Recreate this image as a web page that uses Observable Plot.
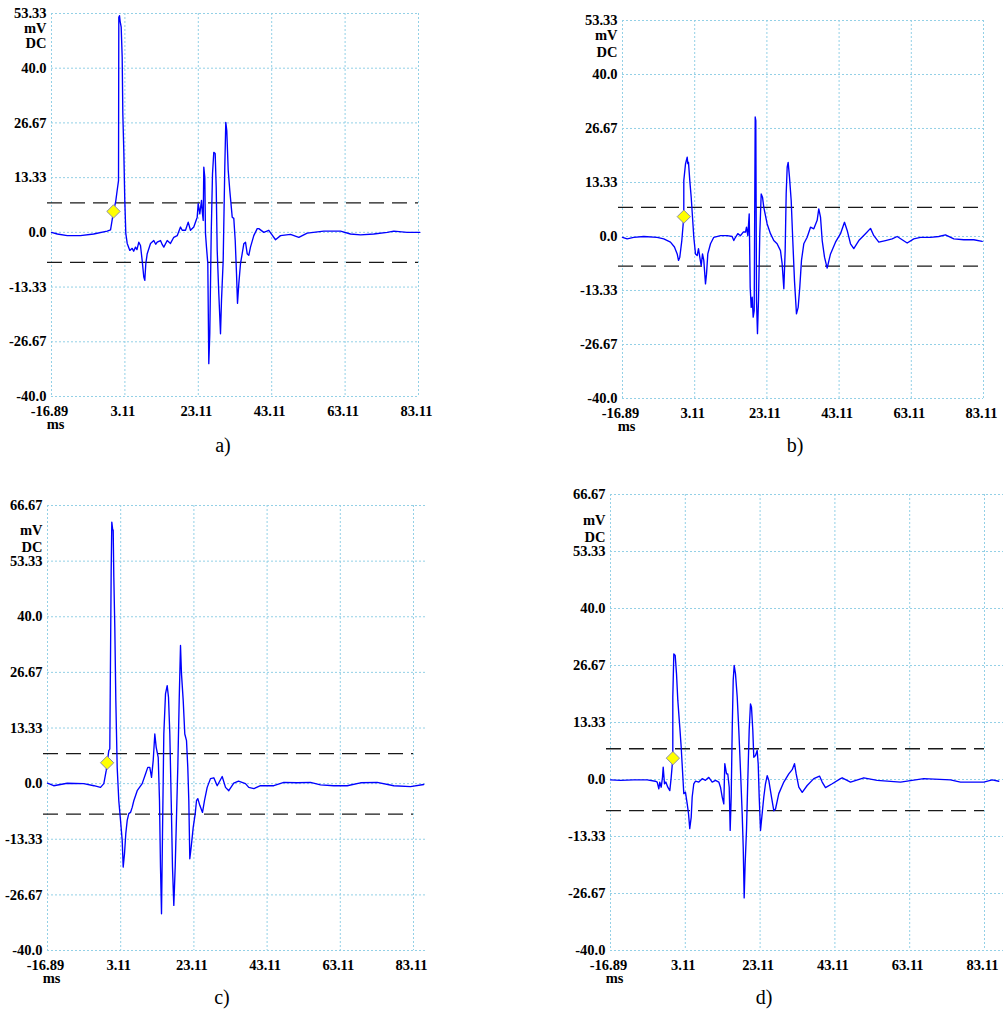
<!DOCTYPE html>
<html>
<head>
<meta charset="utf-8">
<script src="https://cdn.jsdelivr.net/npm/d3@7"></script>
<script src="https://cdn.jsdelivr.net/npm/@observablehq/plot@0.6"></script>
<style>
  body { margin: 0; background: #fff; }
  #wrap { position: relative; width: 1003px; height: 1009px; overflow: hidden; background: #fff; }
  .panel { position: absolute; }
  .panel text { font-family: "Liberation Serif", "Times New Roman", serif !important; font-weight: bold; }
  .cap { position: absolute; font-family: "Liberation Serif", "Times New Roman", serif; font-size: 20px; line-height: 20px; transform: translateX(-50%); color: #000; white-space: nowrap; }
</style>
</head>
<body>
<div id="wrap"></div>
<script>
// ---------- data ----------
const panelNames = ["a)", "b)", "c)", "d)"];
const xTickValues = [-16.89, 3.11, 23.11, 43.11, 63.11, 83.11];
const xTickLabels = ["-16.89", "3.11", "23.11", "43.11", "63.11", "83.11"];
const yTickValuesAB = [-40, -26.67, -13.33, 0, 13.33, 26.67, 40, 53.33];
const yTickValuesCD = [-40, -26.67, -13.33, 0, 13.33, 26.67, 40, 53.33, 66.67];
const yTickLabelMap = {"-40": "-40.0", "-26.67": "-26.67", "-13.33": "-13.33", "0": "0.0", "13.33": "13.33", "26.67": "26.67", "40": "40.0", "53.33": "53.33", "66.67": "66.67"};
const thresholds = [7.2, -7.3];
const markerTime = [0.0, 0.1, -0.6, -0.2];
const markerVolt = [5.1, 4.9, 5.0, 5.0];

// [time ms, voltage mV]
const signalA = [[-16.89,0.0],[-15.3,-0.4],[-12.6,-0.8],[-9.0,-0.8],[-5.4,-0.4],[-1.7,0.3],[-0.8,0.6],[-0.35,3.1],[0.0,5.1],[0.6,7.5],[1.0,10.2],[1.37,12.6],[1.45,52.4],[1.64,52.8],[1.8,51.5],[2.1,50.0],[2.37,42.7],[2.54,29.0],[2.81,19.9],[3.08,7.8],[3.36,-0.3],[3.74,-2.7],[4.45,-4.4],[5.1,-3.9],[5.5,-4.6],[6.0,-3.6],[6.4,-4.2],[6.9,-2.4],[7.36,-3.2],[7.82,-6.9],[8.26,-10.9],[8.53,-11.7],[8.81,-7.6],[9.19,-5.2],[10.09,-2.7],[10.98,-2.0],[11.5,-2.9],[11.91,-2.4],[12.81,-2.0],[13.3,-3.0],[13.71,-3.6],[14.64,-2.0],[15.53,-2.7],[16.43,-1.2],[17.36,-0.8],[18.26,1.3],[18.72,0.5],[19.62,0.5],[20.36,2.5],[20.98,0.5],[21.88,1.3],[22.81,3.7],[23.08,7.0],[23.52,4.5],[23.98,7.8],[24.2,5.0],[24.45,2.9],[24.61,15.9],[24.88,13.4],[25.07,-0.3],[25.34,-3.6],[25.7,-7.6],[25.97,-32.0],[26.24,-24.7],[26.63,-0.3],[26.98,14.3],[27.33,19.5],[27.71,19.2],[27.99,11.0],[28.26,-4.4],[28.7,-15.0],[29.16,-24.7],[29.43,-16.6],[29.89,-6.9],[30.33,15.9],[30.6,26.8],[30.87,24.8],[31.26,15.1],[31.69,10.2],[32.35,3.7],[32.78,3.4],[33.17,-2.0],[33.52,-10.0],[33.79,-17.3],[34.15,-12.5],[34.61,-7.6],[35.07,-5.2],[35.51,-2.8],[35.97,-2.4],[36.43,-5.2],[36.87,-5.6],[37.33,-3.6],[38.23,-0.8],[39.16,0.9],[39.6,0.9],[40.96,0.0],[42.32,0.5],[43.2,-0.6],[44.15,-1.8],[45.51,-0.8],[48.23,-0.5],[50.5,-1.2],[52.78,-0.2],[57.31,0.3],[61.86,0.3],[64.58,-0.4],[67.31,-0.6],[70.93,-0.4],[74.58,0.0],[76.38,0.3],[80.03,0.0],[83.5,0.0]];

const signalB = [[-16.89,-0.2],[-15.6,-0.6],[-13.8,-0.2],[-11.0,0.0],[-7.3,-0.2],[-5.45,-0.6],[-3.6,-1.4],[-2.5,-2.6],[-1.74,-4.3],[-1.38,-5.9],[-1.02,-5.1],[-0.46,-1.0],[-0.08,3.1],[0.09,4.9],[0.09,13.8],[0.56,17.9],[1.03,19.6],[1.2,18.0],[1.39,18.3],[1.75,13.8],[2.14,9.7],[2.5,4.8],[2.86,-0.2],[3.33,-4.3],[3.8,-4.7],[4.16,-3.0],[4.52,-5.1],[4.91,-7.2],[5.27,-4.3],[5.63,-5.9],[6.1,-11.7],[6.38,-9.3],[6.74,-4.3],[7.49,-1.8],[8.4,-0.2],[10.26,0.2],[12.11,0.2],[13.49,0.0],[13.94,-1.0],[14.41,-0.2],[15.05,0.7],[15.8,0.2],[16.55,1.1],[17.18,1.1],[17.46,2.3],[17.82,0.2],[18.21,5.6],[18.48,-12.5],[18.76,-17.5],[19.04,-15.0],[19.31,-19.9],[19.59,-18.3],[19.87,29.5],[20.04,28.6],[20.23,-15.8],[20.5,-24.0],[20.78,-15.8],[21.14,0.7],[21.53,10.5],[21.89,9.7],[22.25,7.2],[23.18,3.1],[24.1,0.7],[25.02,-1.0],[25.94,-1.8],[26.87,-3.5],[27.33,-6.7],[27.8,-12.9],[28.17,-3.5],[28.45,10.5],[28.73,17.1],[29.0,18.3],[29.37,14.6],[29.84,8.9],[30.28,-1.0],[30.75,-10.9],[31.3,-19.1],[31.77,-17.5],[32.22,-12.5],[32.69,-5.9],[33.33,-1.8],[34.26,-0.2],[35.19,2.3],[36.1,1.9],[37.03,4.0],[37.48,6.8],[37.96,4.8],[38.43,-1.0],[39.07,-5.1],[39.8,-7.8],[40.73,-4.3],[42.11,-1.4],[43.5,0.7],[44.6,3.5],[45.35,1.5],[46.27,-1.8],[47.18,-3.0],[48.57,-1.0],[50.42,0.7],[51.81,2.0],[52.73,0.2],[54.11,-1.4],[55.96,-1.0],[57.81,-0.6],[59.2,0.0],[60.58,-0.8],[61.97,-1.6],[63.8,-0.6],[65.65,-0.2],[68.42,-0.2],[70.73,0.0],[72.58,0.4],[74.89,-0.6],[77.66,-0.8],[80.43,-0.8],[82.75,-1.2]];

const signalC = [[-16.89,0.1],[-15.2,-0.5],[-11.5,0.1],[-7.0,0.0],[-4.2,-0.5],[-2.4,-0.9],[-1.5,0.0],[-0.85,3.1],[-0.58,5.0],[-0.14,7.9],[0.13,8.3],[0.51,51.1],[0.68,62.7],[0.9,61.0],[1.06,60.7],[1.23,49.5],[1.5,37.5],[1.78,19.9],[2.15,3.9],[2.59,-4.1],[3.06,-8.8],[3.52,-13.6],[3.79,-20.0],[4.15,-16.8],[4.5,-12.0],[4.89,-8.8],[5.32,-7.2],[5.79,-6.9],[6.25,-5.7],[6.69,-4.1],[7.62,-1.7],[8.98,0.0],[9.89,2.3],[10.51,3.9],[11.06,3.9],[11.53,1.5],[11.99,5.5],[12.43,11.9],[12.81,8.7],[13.36,6.3],[13.71,-4.1],[13.98,-20.0],[14.26,-31.2],[14.53,-12.0],[14.89,11.9],[15.35,21.5],[15.81,23.5],[16.17,20.7],[16.53,11.9],[16.91,-4.1],[17.26,-20.0],[17.62,-29.2],[18.0,-20.0],[18.35,-8.1],[18.71,3.9],[19.09,19.9],[19.45,33.1],[19.72,26.3],[20.19,19.9],[20.62,11.9],[21.09,10.3],[21.44,3.9],[21.72,-4.1],[21.99,-18.0],[22.37,-15.2],[22.92,-10.5],[23.47,-7.2],[23.82,-4.1],[24.18,-3.6],[24.72,-5.2],[25.46,-6.9],[26.0,-4.1],[26.74,-0.9],[27.64,1.2],[28.55,1.4],[29.48,-0.5],[30.84,1.7],[31.75,-0.9],[32.64,-1.7],[34.0,0.1],[35.3,0.6],[37.2,0.0],[38.1,-0.9],[39.5,-1.2],[41.3,-0.5],[44.94,-0.5],[47.68,0.3],[51.32,0.2],[54.97,0.3],[57.7,-0.3],[61.33,-0.5],[64.99,-0.5],[68.63,0.2],[73.19,0.3],[77.73,-0.5],[82.29,-0.7],[85.9,-0.2]];

const signalD = [[-16.89,-0.1],[-14.2,-0.2],[-10.7,-0.1],[-7.1,-0.1],[-4.9,-0.4],[-4.4,-0.6],[-3.97,-2.2],[-3.71,-0.6],[-3.33,-1.8],[-2.99,0.5],[-2.8,2.9],[-2.45,-1.0],[-2.1,-0.6],[-1.57,-1.8],[-1.03,-2.6],[-0.66,0.5],[-0.23,5.0],[-0.23,19.3],[0.04,29.4],[0.41,29.0],[0.76,24.7],[1.11,18.5],[1.64,12.2],[2.01,7.6],[2.36,2.1],[2.71,-3.3],[3.16,-3.0],[3.62,-5.7],[3.97,-8.0],[4.3,-11.5],[4.69,-8.8],[4.95,-4.1],[5.38,-1.0],[5.84,-0.4],[6.72,-0.6],[7.63,0.2],[8.51,-0.2],[9.39,0.5],[10.3,-0.6],[11.18,-0.2],[12.07,-0.6],[12.52,-1.8],[12.98,-4.1],[13.4,-5.7],[13.67,3.7],[14.13,1.3],[14.47,1.3],[14.85,-1.8],[15.11,-11.9],[15.38,-4.1],[15.65,11.5],[15.92,23.2],[16.18,26.7],[16.53,24.7],[16.99,19.3],[17.42,11.5],[17.87,2.1],[18.32,-8.0],[18.6,-16.0],[18.85,-27.7],[19.1,-20.0],[19.47,-11.9],[19.82,-0.2],[20.19,11.5],[20.54,17.7],[20.81,16.9],[21.16,11.5],[21.42,5.2],[21.88,5.6],[22.33,6.8],[22.6,3.7],[22.87,-4.1],[23.22,-11.9],[23.57,-8.8],[24.1,-4.1],[24.55,-1.0],[25.01,0.9],[25.44,-0.2],[26.16,-4.1],[26.77,-7.3],[27.23,-6.9],[28.11,-3.3],[29.45,-0.6],[30.78,1.3],[31.69,2.3],[32.31,3.7],[32.76,1.3],[33.46,-1.8],[34.37,-3.0],[35.7,-1.4],[37.47,0.2],[39.0,0.8],[39.71,-0.6],[40.6,-1.9],[42.39,-1.0],[44.61,0.2],[45.06,0.4],[47.28,-0.6],[50.84,0.4],[54.42,-0.2],[60.65,-0.6],[66.88,0.2],[74.0,-0.1],[76.69,-0.6],[82.93,-0.6],[85.17,-0.1],[86.93,-0.4]];

// ---------- layout (positions / styles) ----------
const layouts = [
  {left: 0,   top: 0,   width: 500, height: 470, ml: 51,  mr: 82, mt: 13, mb: 74, unitDy: [15, 30], gridExt: 0,  cap: [223, 435]},
  {left: 500, top: 0,   width: 503, height: 470, ml: 122, mr: 20, mt: 20, mb: 72, unitDy: [15, 32], gridExt: 0,  cap: [795, 435]},
  {left: 0,   top: 480, width: 500, height: 529, ml: 47,  mr: 87, mt: 25, mb: 59, unitDy: [25, 42], gridExt: 12, cap: [222, 987]},
  {left: 500, top: 480, width: 503, height: 529, ml: 110, mr: 19, mt: 14, mb: 59, unitDy: [26, 43], gridExt: 19, cap: [764, 987]}
];
const signals = [signalA, signalB, signalC, signalD];
const yTickSets = [yTickValuesAB, yTickValuesAB, yTickValuesCD, yTickValuesCD];

const GRID = "#93d0e6";
const FONT = "Liberation Serif";
const textStyle = {fontFamily: FONT, fontSize: 14.5, fontWeight: "bold"};
const wrap = document.getElementById("wrap");

signals.forEach((sig, i) => {
  const L = layouts[i];
  const yTicks = yTickSets[i];
  const svg = Plot.plot({
    width: L.width,
    height: L.height,
    marginLeft: L.ml,
    marginRight: L.mr,
    marginTop: L.mt,
    marginBottom: L.mb,
    x: {domain: [xTickValues[0], xTickValues[xTickValues.length - 1]]},
    y: {domain: [d3.min(yTicks), d3.max(yTicks)]},
    style: 'font-family: "Liberation Serif", serif; font-size: 14.5px; font-weight: bold; color: #000; background: transparent; overflow: visible;',
    marks: [
      Plot.gridX(xTickValues, {stroke: GRID, strokeOpacity: 1, strokeWidth: 1, strokeDasharray: "2,2"}),
      Plot.gridY(yTicks, {stroke: GRID, strokeOpacity: 1, strokeWidth: 1, strokeDasharray: "2,2", insetRight: -L.gridExt}),
      Plot.ruleY(thresholds, {stroke: "#1a1a1a", strokeWidth: 1.3, strokeDasharray: "15,8", insetLeft: -4}),
      Plot.line(sig, {x: d => d[0], y: d => d[1], stroke: "#0000ff", strokeWidth: 1.35}),
      Plot.dot([markerTime[i]], {x: d => d, y: () => markerVolt[i], symbol: "diamond2", r: 6, fill: "#ffff00", stroke: "#8c8ca8", strokeWidth: 1}),
      Plot.axisX(xTickValues, {...textStyle, tickSize: 0, tickPadding: 9, dx: -2, tickFormat: d => xTickLabels[xTickValues.indexOf(d)]}),
      Plot.axisY(yTicks, {...textStyle, tickSize: 0, tickPadding: 5, tickFormat: d => yTickLabelMap[String(d)]}),
      Plot.text(["mV"], {...textStyle, frameAnchor: "top-left", textAnchor: "end", lineAnchor: "middle", dx: -5, dy: L.unitDy[0]}),
      Plot.text(["DC"], {...textStyle, frameAnchor: "top-left", textAnchor: "end", lineAnchor: "middle", dx: -5, dy: L.unitDy[1]}),
      Plot.text(["ms"], {...textStyle, frameAnchor: "bottom-left", textAnchor: "middle", lineAnchor: "middle", dx: 4, dy: 28})
    ]
  });
  svg.classList.add("panel");
  svg.style.left = L.left + "px";
  svg.style.top = L.top + "px";
  wrap.appendChild(svg);

  const cap = document.createElement("div");
  cap.className = "cap";
  cap.textContent = panelNames[i];
  cap.style.left = L.cap[0] + "px";
  cap.style.top = L.cap[1] + "px";
  wrap.appendChild(cap);
});
</script>
</body>
</html>
